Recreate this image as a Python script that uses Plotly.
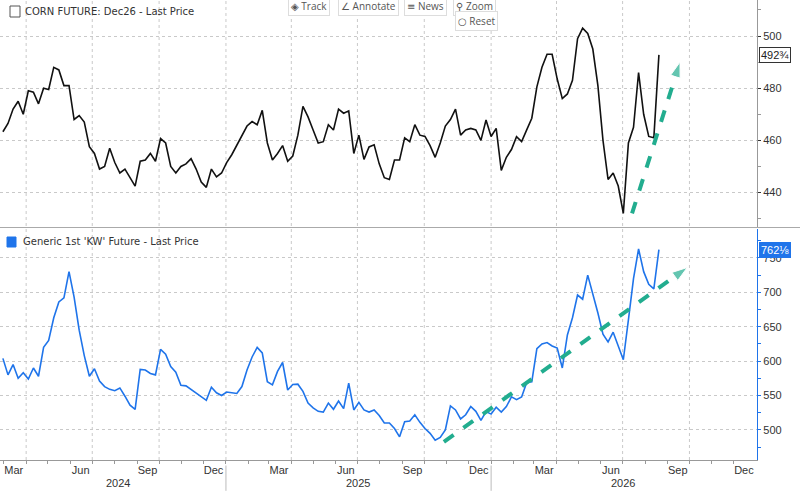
import pandas as pd
import plotly.graph_objects as go

# weekly closes
dates = pd.date_range("2024-02-29", periods=130, freq="7D")

corn = [
    463.3, 466.5, 472, 475, 470, 479, 478.5, 474, 480, 479.5,
    488, 487, 481, 481, 468, 469.5, 467, 457.6, 455, 449,
    450, 457, 451.5, 447.5, 449, 445.5, 442.5, 452, 452.5, 455,
    452, 460.7, 459, 450, 447.5, 450, 451, 453, 449, 444,
    442, 449, 446, 447.5, 451.5,
    454.5, 458, 462, 465.5, 467.2, 466, 471.5, 459, 452.5, 455,
    458, 452, 454, 462, 473, 469, 464, 459, 459.5, 466,
    464, 472, 470.4, 471.3, 455, 462, 452.7, 457.5, 458.3, 451,
    445.7, 445, 452.5, 452.5, 461, 459.5, 466, 462, 461.5, 458,
    453.5, 459, 465.5, 468,
    472, 462, 464, 464.6, 464, 460, 467.8, 461.5, 464.6, 448.5,
    453.5, 456.5, 461.4, 459.5, 464, 468.5, 480.5, 488, 493, 493,
    483.5, 476, 477.8, 483, 499, 503, 501, 495, 481, 460,
    445, 447.5, 442.5, 432, 459, 465, 486, 470, 461.5, 461,
    492.75,
]

wheat = [
    604, 580, 595, 575, 583, 574, 590, 578, 620, 630,
    663, 686, 692, 730, 693, 645, 608, 578, 589, 571,
    563, 559, 557, 561, 549, 536, 530, 588, 587, 582,
    580, 617, 610, 592, 584, 565, 564, 559, 553, 549,
    543, 562, 554, 550, 555,
    554, 553, 563, 587, 606, 620, 612, 570, 565.5, 585,
    598, 558, 566, 566.5, 556, 539, 532, 527, 526, 539,
    530, 542, 531, 568, 529, 540, 529, 526, 529, 521,
    510, 510, 502, 490, 512, 513, 522, 511, 502, 495,
    485, 489, 500, 535,
    529, 516, 522, 534, 527, 514, 526.7, 523, 533, 526,
    534, 548, 544, 548, 569, 570, 618, 625, 627, 622,
    619, 590, 638, 663, 696, 690, 725, 698, 670, 639,
    628, 642, 622, 602, 660, 720, 763, 730, 711.5, 705,
    762.125,
]

corn_name = "CORN FUTURE: Dec26 - Last Price"
wheat_name = "Generic 1st 'KW' Future - Last Price"
corn_last = "492¾"
wheat_last = "762⅛"

# hand-drawn trend arrows: tail -> head
corn_arrow_x = ["2026-07-14", "2026-09-18"]
corn_arrow_y = [432, 490]
wheat_arrow_x = ["2025-10-28", "2026-09-28"]
wheat_arrow_y = [482.5, 736]

corn_ticks = [440, 460, 480, 500]
wheat_ticks = [500, 550, 600, 650, 700, 750]
years = ["2024", "2025", "2026"]
year_mid = ["2024-08-06", "2025-07-02", "2026-07-02"]
year_breaks = ["2025-01-01", "2026-01-01"]

label_days = pd.date_range("2024-03-01", "2026-12-01", freq="3MS") + pd.Timedelta(days=14)
month_text = [d.strftime("%b") for d in label_days]
month_starts = pd.date_range("2024-03-01", "2026-12-01", freq="MS")
quarter_starts = pd.date_range("2024-04-01", "2026-10-01", freq="QS")

X_RANGE = ["2024-02-25", "2027-01-02"]
BLUE = "#1f74ea"
ARROW = "#22ad8f"
GRID = "#c9c9c9"
TICKFONT = dict(family="Liberation Sans, Arial", size=11, color="#333")
LABELFONT = dict(family="DejaVu Sans", size=10, color="#333")

W, H = 757, 460  # plot area in px


def px_x(p):
    return p / W


def px_y(p):
    return 1 - p / H


fig = go.Figure()

fig.add_trace(go.Scatter(x=dates, y=corn, mode="lines", xaxis="x", yaxis="y",
                         line=dict(color="#111", width=1.6), hoverinfo="skip"))
fig.add_trace(go.Scatter(x=dates, y=wheat, mode="lines", xaxis="x2", yaxis="y2",
                         line=dict(color=BLUE, width=1.6), hoverinfo="skip"))

for ax, ay, xa, ya in [(corn_arrow_x, corn_arrow_y, "x", "y"),
                       (wheat_arrow_x, wheat_arrow_y, "x2", "y2")]:
    fig.add_trace(go.Scatter(
        x=ax, y=ay, mode="lines+markers", xaxis=xa, yaxis=ya,
        line=dict(color=ARROW, width=4, dash="dash"),
        marker=dict(symbol="arrow", size=[0, 16], color=ARROW, angleref="previous"),
        hoverinfo="skip"))

fig.update_layout(
    width=800, height=491,
    margin=dict(l=0, r=43, t=0, b=31),
    plot_bgcolor="white", paper_bgcolor="white",
    showlegend=False,
    xaxis=dict(domain=[0, 1], anchor="y", range=X_RANGE, showticklabels=False,
               showgrid=False, zeroline=False, ticks=""),
    xaxis2=dict(domain=[0, 1], anchor="y2", matches="x", range=X_RANGE,
                tickvals=label_days, ticktext=month_text, ticks="",
                tickfont=TICKFONT, showgrid=False, zeroline=False,
                showline=True, linecolor="#999", linewidth=1,
                minor=dict(tickvals=month_starts, ticks="outside", ticklen=3,
                           tickcolor="#999", showgrid=False)),
    yaxis=dict(domain=[px_y(227), 1], anchor="x", side="right", range=[426.8, 513.8],
               tickvals=corn_ticks, tickprefix="▸", ticks="outside", ticklen=3,
               tickcolor="#333", tickfont=TICKFONT,
               showgrid=True, gridcolor=GRID, griddash="dot", zeroline=False,
               showline=True, linecolor="#999", linewidth=1,
               minor=dict(tickvals=[430, 450, 470, 490, 510], ticks="outside",
                          ticklen=3, tickcolor="#999", showgrid=False)),
    yaxis2=dict(domain=[0, px_y(229)], anchor="x2", side="right", range=[456.3, 792],
                tickvals=wheat_ticks, tickprefix="▸", ticks="outside", ticklen=3,
                tickcolor=BLUE, tickfont=TICKFONT,
                showgrid=True, gridcolor=GRID, griddash="dot", zeroline=False,
                showline=True, linecolor=BLUE, linewidth=1.2,
                minor=dict(tickvals=[475, 525, 575, 625, 675, 725, 775], ticks="outside",
                           ticklen=3, tickcolor=BLUE, showgrid=False)),
)

shapes = []
for q in quarter_starts:
    shapes.append(dict(type="line", xref="x", yref="paper", x0=q, x1=q, y0=0, y1=1,
                       line=dict(color=GRID, width=1, dash="dot"), layer="below"))
for b in year_breaks:
    shapes.append(dict(type="line", xref="x", yref="paper", x0=b, x1=b,
                       y0=-0.067, y1=-0.012, line=dict(color="#bbb", width=1)))
# panel separator
shapes.append(dict(type="line", xref="paper", yref="paper", x0=0, x1=1.06,
                   y0=px_y(227.5), y1=px_y(227.5), line=dict(color="#aaa", width=1.2)))
# legend squares
shapes.append(dict(type="rect", xref="paper", yref="paper",
                   x0=px_x(10), x1=px_x(20), y0=px_y(17), y1=px_y(6),
                   line=dict(color="#555", width=1), fillcolor="white"))
shapes.append(dict(type="rect", xref="paper", yref="paper",
                   x0=px_x(7), x1=px_x(16), y0=px_y(247), y1=px_y(237),
                   line=dict(color=BLUE, width=1), fillcolor=BLUE))
fig.update_layout(shapes=shapes)

annotations = [
    dict(text=corn_name, xref="paper", yref="paper", x=px_x(23), y=px_y(12),
         xanchor="left", yanchor="middle", showarrow=False, font=LABELFONT),
    dict(text=wheat_name, xref="paper", yref="paper", x=px_x(21), y=px_y(242),
         xanchor="left", yanchor="middle", showarrow=False, font=LABELFONT),
    dict(text=corn_last, xref="paper", yref="y", x=1.002, y=corn[-1],
         xanchor="left", yanchor="middle", showarrow=False,
         font=dict(family="Liberation Sans, Arial", size=11, color="#222"),
         bgcolor="white", bordercolor="#333", borderwidth=1, borderpad=1),
    dict(text=wheat_last, xref="paper", yref="y2", x=1.003, y=wheat[-1],
         xanchor="left", yanchor="middle", showarrow=False,
         font=dict(family="Liberation Sans, Arial", size=11, color="white"),
         bgcolor=BLUE, bordercolor=BLUE, borderwidth=1, borderpad=1),
]
for yr, mid in zip(years, year_mid):
    annotations.append(dict(text=yr, xref="x", yref="paper", x=mid, y=px_y(483),
                            xanchor="center", yanchor="middle", showarrow=False,
                            font=TICKFONT))

# chart toolbar
BTN = dict(family="Open Sans, DejaVu Sans", size=10, color="#555")
for label, cx, cy in [("◈ Track", 309, 6), ("∠ Annotate", 368, 6), ("≡ News", 425, 6),
                      ("⚲ Zoom", 475, 6), ("○ Reset", 476, 21)]:
    annotations.append(dict(text=label, xref="paper", yref="paper", x=px_x(cx), y=px_y(cy),
                            xanchor="center", yanchor="middle", showarrow=False, font=BTN,
                            bgcolor="white", bordercolor="#ddd", borderwidth=1, borderpad=2))
fig.update_layout(annotations=annotations)

# the page's default body margin would shift the chart by 8px
fig.write_html("out.html", config={"displayModeBar": False},
               post_script="document.body.style.margin='0';")
